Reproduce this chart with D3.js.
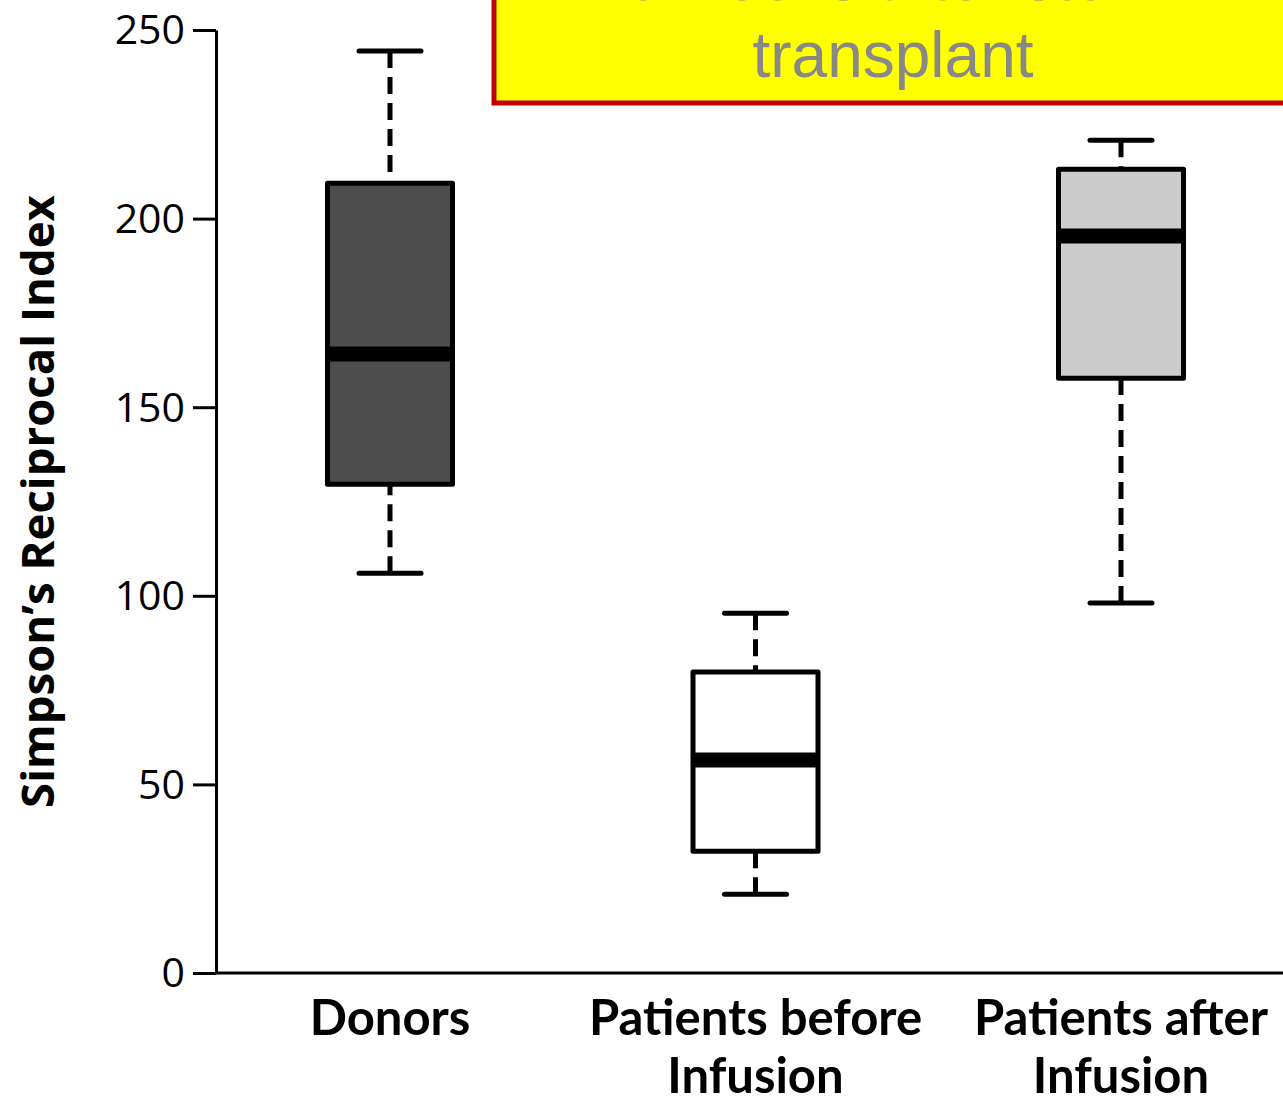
<!DOCTYPE html>
<html>
<head>
<meta charset="utf-8">
<script src="https://cdn.jsdelivr.net/npm/d3@7"></script>
<style>
  html, body { margin: 0; padding: 0; background: #fff; }
  svg { display: block; }
</style>
</head>
<body>
<script>
// Box-plot summaries of Simpson's reciprocal diversity index per group
const categories = ["Donors", "Patients before Infusion", "Patients after Infusion"];
const categoryLines = [["Donors"], ["Patients before", "Infusion"], ["Patients after", "Infusion"]];
const whiskerLow  = [106.0, 20.9, 98.1];
const q1          = [129.6, 32.3, 157.7];
const median      = [164.1, 56.5, 195.4];
const q3          = [209.4, 79.8, 213.1];
const whiskerHigh = [244.4, 95.4, 220.8];
const boxFills    = ["#4d4d4d", "#ffffff", "#cccccc"];
const yTicks      = [0, 50, 100, 150, 200, 250];
const calloutLines = ["6 weeks after stem", "transplant"];

const W = 1283, H = 1101;
const svg = d3.select("body").append("svg")
  .attr("width", W).attr("height", H);

const y = d3.scaleLinear().domain([0, 250]).range([973, 30]);
const x = d3.scalePoint().domain(categories).range([390, 1121]);
const axisX = 216;
const boxW = 125, capW = 62;

// y axis
const yAxis = svg.append("g")
  .attr("transform", `translate(${axisX},0)`)
  .call(d3.axisLeft(y).tickValues(yTicks).tickSize(23).tickPadding(8).tickSizeOuter(0));
yAxis.select(".domain").attr("stroke", "#000").attr("stroke-width", 3);
yAxis.selectAll(".tick line").attr("stroke", "#000").attr("stroke-width", 3);
yAxis.selectAll(".tick text")
  .attr("fill", "#000")
  .style("font-family", "'Open Sans', sans-serif")
  .style("font-size", "41px")
  .attr("dy", "0.34em");

// x baseline
svg.append("line")
  .attr("x1", axisX).attr("x2", W)
  .attr("y1", y(0)).attr("y2", y(0))
  .attr("stroke", "#000").attr("stroke-width", 3);

// y axis title
svg.append("text")
  .attr("transform", `translate(54,${(195 + 808) / 2}) rotate(-90)`)
  .attr("text-anchor", "middle")
  .style("font-family", "'Open Sans', sans-serif")
  .style("font-weight", 700)
  .style("font-size", "45.5px")
  .text("Simpson\u2019s Reciprocal Index");

// boxes
const groups = svg.append("g").selectAll("g")
  .data(categories.map((c, i) => ({ c, i })))
  .join("g");

groups.each(function (d) {
  const g = d3.select(this);
  const cx = x(d.c);
  const i = d.i;
  const dash = "17,9";
  // upper whisker (dashed, drawn from the cap toward the box)
  g.append("line")
    .attr("x1", cx).attr("x2", cx)
    .attr("y1", y(whiskerHigh[i])).attr("y2", y(q3[i]))
    .attr("stroke", "#000").attr("stroke-width", 5)
    .attr("stroke-dasharray", dash);
  // lower whisker
  g.append("line")
    .attr("x1", cx).attr("x2", cx)
    .attr("y1", y(whiskerLow[i])).attr("y2", y(q1[i]))
    .attr("stroke", "#000").attr("stroke-width", 5)
    .attr("stroke-dasharray", dash);
  // caps
  [whiskerHigh[i], whiskerLow[i]].forEach(v => {
    g.append("line")
      .attr("x1", cx - capW / 2).attr("x2", cx + capW / 2)
      .attr("y1", y(v)).attr("y2", y(v))
      .attr("stroke", "#000").attr("stroke-width", 5)
      .attr("stroke-linecap", "round");
  });
  // box
  g.append("rect")
    .attr("x", cx - boxW / 2).attr("width", boxW)
    .attr("y", y(q3[i])).attr("height", y(q1[i]) - y(q3[i]))
    .attr("fill", boxFills[i])
    .attr("stroke", "#000").attr("stroke-width", 5)
    .attr("stroke-linejoin", "round");
  // median
  g.append("line")
    .attr("x1", cx - boxW / 2).attr("x2", cx + boxW / 2)
    .attr("y1", y(median[i])).attr("y2", y(median[i]))
    .attr("stroke", "#000").attr("stroke-width", 15);
});

// category labels
categories.forEach((c, i) => {
  const t = svg.append("text")
    .attr("text-anchor", "middle")
    .style("font-family", "Lato, sans-serif")
    .style("font-weight", 700)
    .style("font-size", "49px");
  categoryLines[i].forEach((line, k) => {
    t.append("tspan")
      .attr("x", x(c))
      .attr("y", 1035 + k * 58)
      .text(line);
  });
});

// callout box in the top right
svg.append("rect")
  .attr("x", 494).attr("y", -20)
  .attr("width", W - 494 + 20).attr("height", 123)
  .attr("fill", "#ffff00")
  .attr("stroke", "#c00000").attr("stroke-width", 5);
const callout = svg.append("text")
  .attr("text-anchor", "middle")
  .style("font-family", "'Liberation Sans', Arial, sans-serif")
  .style("font-size", "64px")
  .attr("fill", "#888888");
calloutLines.forEach((line, k) => {
  callout.append("tspan")
    .attr("x", 893)
    .attr("y", 0 + k * 77)
    .text(line);
});
</script>
</body>
</html>
